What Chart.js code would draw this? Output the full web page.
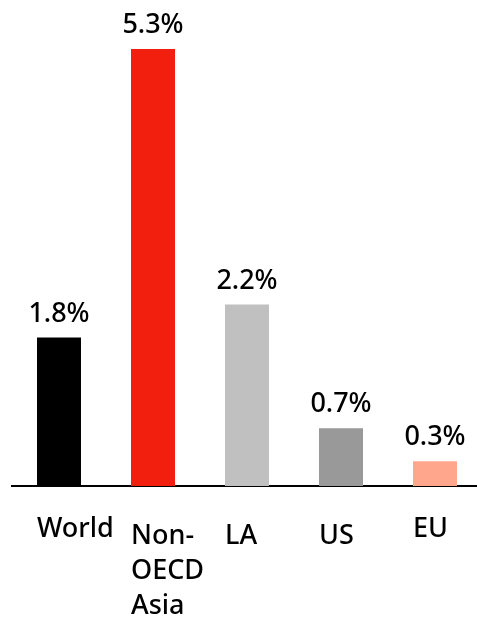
<!DOCTYPE html>
<html>
<head>
<meta charset="utf-8">
<script src="https://cdn.jsdelivr.net/npm/chart.js@4.4.1/dist/chart.umd.min.js"></script>
<style>
  html, body { margin: 0; padding: 0; background: #fff; overflow: hidden; }
  #wrap { width: 482px; height: 635px; }
</style>
</head>
<body>
<div id="wrap"><canvas id="growth"></canvas></div>
<script>
const regions = [['World'], ['Non-', 'OECD', 'Asia'], ['LA'], ['US'], ['EU']]
const growth = [1.8, 5.3, 2.2, 0.7, 0.3]
const barColors = ['#000000', '#f21e0e', '#c0c0c0', '#999999', '#ffa68c']

const fontFamily = '"Noto Sans", "Open Sans", sans-serif'

// value on top of each bar, region name under it
const barLabels = {
    id: 'barLabels',
    afterDatasetsDraw(chart, args, opts) {
        const ctx = chart.ctx
        const meta = chart.getDatasetMeta(0)
        const xs = chart.scales.x
        ctx.save()
        ctx.fillStyle = '#000'
        ctx.font = `500 27px ${fontFamily}`
        ctx.textBaseline = 'alphabetic'

        meta.data.forEach((bar, i) => {
            ctx.textAlign = 'center'
            ctx.fillText(growth[i].toFixed(1) + '%', bar.x, bar.y - 16)

            const left = bar.x - bar.width / 2
            const baseY = xs.top + opts.firstLine + (opts.shift[i] || 0)
            ctx.textAlign = 'left'
            regions[i].forEach((line, j) => {
                ctx.fillText(line, left, baseY + j * opts.lineHeight)
            })
        })
        ctx.restore()
    }
}

new Chart(document.getElementById('growth'), {
    type: 'bar',
    data: {
        labels: regions.map(r => r.join(' ')),
        datasets: [{
            data: growth,
            backgroundColor: barColors,
            borderWidth: 0,
            barPercentage: 0.468,
            categoryPercentage: 1
        }]
    },
    options: {
        responsive: true,
        maintainAspectRatio: false,
        animation: false,
        layout: { padding: { top: 49, left: 12, right: 0, bottom: 0 } },
        scales: {
            x: {
                grid: { display: false, drawTicks: false },
                border: { display: true, color: '#000', width: 2 },
                ticks: { display: false },
                afterFit(scale) { scale.height = 149 }
            },
            y: {
                display: false,
                min: 0,
                max: 5.3
            }
        },
        plugins: {
            legend: { display: false },
            tooltip: { enabled: false },
            barLabels: { firstLine: 51, lineHeight: 35, shift: [0, 7, 7, 7, 0] }
        }
    },
    plugins: [barLabels]
})
</script>
</body>
</html>
